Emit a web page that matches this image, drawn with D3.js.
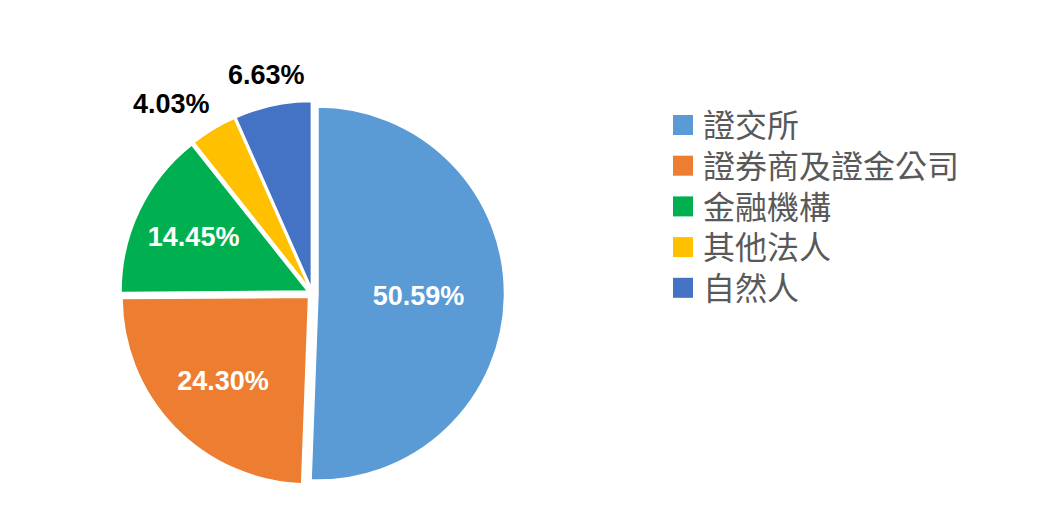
<!DOCTYPE html>
<html>
<head>
<meta charset="utf-8">
<script src="https://cdn.jsdelivr.net/npm/d3@7"></script>
<style>
  body { margin: 0; background: #fff; }
  .pct { font-family: Arial, "Liberation Sans", sans-serif; font-weight: bold; font-size: 27px; }
  .legendText { font-family: "Microsoft JhengHei", "Noto Sans CJK TC", sans-serif; font-size: 32px; fill: #595959; }
</style>
</head>
<body>
<div id="chart"></div>
<script>
// data
var categories = ["證交所", "證券商及證金公司", "金融機構", "其他法人", "自然人"];
var shares = [50.59, 24.30, 14.45, 4.03, 6.63];
var sliceColors = ["#5B9BD5", "#ED7D31", "#00B050", "#FFC000", "#4472C4"];

var svgWidth = 1055;
var svgHeight = 531;

var cx = 312.5, cy = 293.5;
var radius = 186.5;
var explode = 5.5;

var svg = d3.select("#chart")
  .append("svg")
  .attr("width", svgWidth)
  .attr("height", svgHeight);

var pieGroup = svg.append("g")
  .attr("transform", `translate(${cx}, ${cy})`);

var pie = d3.pie()
  .sort(null)
  .value(d => d);

var arcs = pie(shares);
var total = d3.sum(shares);

var arc = d3.arc()
  .innerRadius(0)
  .outerRadius(radius);

function mid(d) {
  return (d.startAngle + d.endAngle) / 2;
}

// slices, each pulled out a little along its bisector
pieGroup.selectAll("path")
  .data(arcs)
  .enter()
  .append("path")
  .attr("d", arc)
  .attr("transform", d => `translate(${Math.sin(mid(d)) * explode}, ${-Math.cos(mid(d)) * explode})`)
  .attr("fill", (d, i) => sliceColors[i])
  .attr("stroke", "white")
  .attr("stroke-width", 1.5);

// percent labels: big slices inside, small ones outside
var labels = pieGroup.selectAll("text.pct")
  .data(arcs)
  .enter()
  .append("text")
  .attr("class", "pct")
  .attr("text-anchor", "middle")
  .attr("dy", "0.36em")
  .attr("fill", d => d.value >= 10 ? "white" : "black")
  .text(d => d.value.toFixed(2) + "%");

// wider slices keep their label a bit closer to the middle
function insideR(d) {
  return explode + radius * (0.733 - 0.384 * d.value / total);
}

labels.filter(d => d.value >= 10)
  .attr("x", d => Math.sin(mid(d)) * insideR(d))
  .attr("y", d => -Math.cos(mid(d)) * insideR(d));

// outside labels sit just past the rim, then get nudged
// counterclockwise until they stop overlapping
var outer = [];
labels.filter(d => d.value < 10).each(function(d) {
  outer.push({ node: this, d: d, angle: mid(d), w: this.getComputedTextLength(), h: 22 });
});

function place(o) {
  var s = Math.sin(o.angle), c = Math.cos(o.angle);
  var dist = radius + explode + 13 + Math.abs(s) * o.w / 2 + Math.abs(c) * o.h / 2;
  o.x = s * dist;
  o.y = -c * dist;
}

function overlaps(a, b, pad) {
  return Math.abs(a.x - b.x) < (a.w + b.w) / 2 + pad &&
    Math.abs(a.y - b.y) < (a.h + b.h) / 2 + pad;
}

outer.sort((a, b) => b.angle - a.angle);
var placed = [];
outer.forEach(function(o) {
  place(o);
  var steps = 0;
  while (placed.some(p => overlaps(o, p, 17)) && steps < 60) {
    o.angle -= Math.PI / 360;
    place(o);
    steps++;
  }
  placed.push(o);
  d3.select(o.node).attr("x", o.x).attr("y", o.y);
});

// legend
var legendX = 673, legendY = 115, rowGap = 40.7;

var legend = svg.append("g")
  .attr("transform", `translate(${legendX}, ${legendY})`);

var rows = legend.selectAll("g")
  .data(categories)
  .enter()
  .append("g")
  .attr("transform", (d, i) => `translate(0, ${i * rowGap})`);

rows.append("rect")
  .attr("width", 20)
  .attr("height", 20)
  .attr("fill", (d, i) => sliceColors[i]);

rows.append("text")
  .attr("class", "legendText")
  .attr("x", 30)
  .attr("y", 10)
  .attr("dy", "0.38em")
  .text(d => d);
</script>
</body>
</html>
